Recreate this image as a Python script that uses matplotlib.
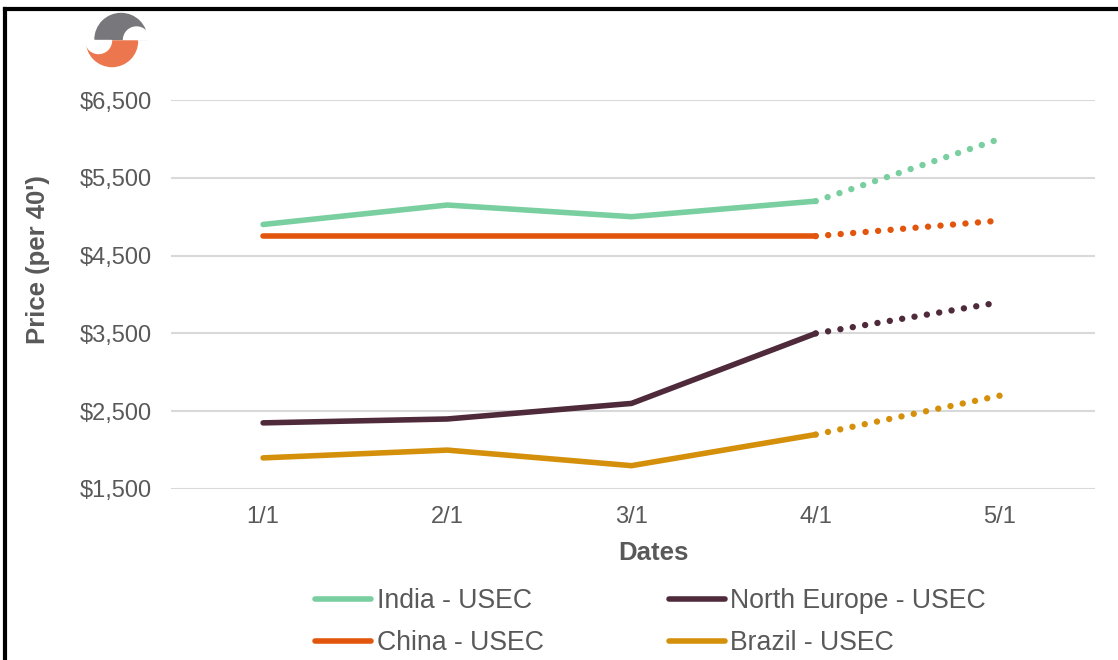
import numpy as np
import matplotlib.pyplot as plt
from matplotlib.patches import Wedge
from matplotlib.lines import Line2D

plt.rcParams['font.family'] = ['Liberation Sans', 'DejaVu Sans']

# データ
dates = ['1/1', '2/1', '3/1', '4/1', '5/1']
india = [4900, 5150, 5000, 5200, 6000]
china = [4750, 4750, 4750, 4750, 4950]
north_europe = [2350, 2400, 2600, 3500, 3900]
brazil = [1900, 2000, 1800, 2200, 2700]
yticks = [1500, 2500, 3500, 4500, 5500, 6500]

series = [
    ('India - USEC', india, '#79CFA0'),
    ('China - USEC', china, '#E2550D'),
    ('North Europe - USEC', north_europe, '#4E2A3B'),
    ('Brazil - USEC', brazil, '#D4900B'),
]
grey = '#595959'

fig = plt.figure(figsize=(11.18, 6.6), dpi=100)
ax = fig.add_axes([171/1118, 1-489/660, (1095-171)/1118, (489-100)/660])

x = np.arange(len(dates))
handles = []
for name, vals, col in series:
    # 実績（実線）
    ax.plot(x[:4], vals[:4], color=col, lw=4.0, solid_capstyle='round',
            solid_joinstyle='round')
    # 予測（点線）
    ax.plot(x[3:], vals[3:], color=col, lw=4.6, linestyle=(0, (0.01, 1.95)),
            dash_capstyle='round')
    handles.append(Line2D([], [], color=col, lw=4.0, solid_capstyle='round', label=name))

ax.set_xlim(-0.5, len(dates) - 0.5 + 3/184)
ax.set_ylim(1500, 6500)
ax.set_xticks(x)
ax.set_xticklabels(dates)
ax.set_yticks(yticks)
ax.set_yticklabels(['${:,}'.format(v) for v in yticks])
ax.tick_params(axis='both', length=0, labelsize=17, labelcolor=grey)
ax.tick_params(axis='y', pad=14)
ax.tick_params(axis='x', pad=12)
for s in ax.spines.values():
    s.set_visible(False)
ax.grid(axis='y', color='#D9D9D9', lw=1.5)
ax.set_axisbelow(True)

ax.set_xlabel('Dates', fontsize=18.5, fontweight='bold', color=grey)
ax.xaxis.set_label_coords((653-171)/924, -(553-489)/389)
ax.set_ylabel("Price (per 40')", fontsize=18.5, fontweight='bold', color=grey)
ax.yaxis.set_label_coords(-(171-38)/924, (489-260)/389)
ax.xaxis.label.set_va('center')
ax.yaxis.label.set_va('center')

# 凡例
fig.legend(handles=handles, loc='center', bbox_to_anchor=(650.5/1118, 1-622.5/660), ncol=2,
           frameon=False, fontsize=19.2, labelcolor=grey, handlelength=2.1,
           handletextpad=0.2, columnspacing=4.7, labelspacing=0.6)

# ロゴ (y軸反転なので角度も反転)
lax = fig.add_axes([0, 0, 1, 1])
lax.set_xlim(0, 1118)
lax.set_ylim(660, 0)
lax.axis('off')
lax.add_patch(Wedge((121, 39.5), 26, 180, 360, color='#77777C'))
lax.add_patch(Wedge((136.5, 40), 13, 180, 360, color='white'))
lax.add_patch(Wedge((112, 41), 25.5, 0, 180, color='#EC764E'))
lax.add_patch(Wedge((98.5, 40.5), 13, 0, 180, color='white'))

# 枠線
lax.plot([5, 5], [660, 9], color='black', lw=3, solid_capstyle='projecting')
lax.plot([5, 1118], [9, 9], color='black', lw=3, solid_capstyle='projecting')

plt.savefig('out.png', dpi=100)
